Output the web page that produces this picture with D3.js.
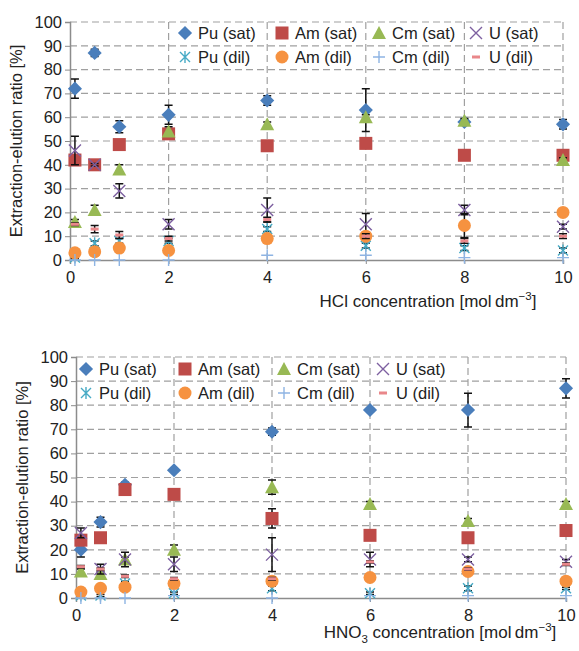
<!DOCTYPE html>
<html>
<head>
<meta charset="utf-8">
<script src="https://cdn.jsdelivr.net/npm/d3@7"></script>
<style>
  body { margin: 0; background: #fff; }
  svg text { font-family: "Liberation Sans", Arial, sans-serif; fill: #222; }
</style>
</head>
<body>
<div id="chart"></div>
<script>
// concentrations (mol/dm3) shared by both panels
var conc = [0.1, 0.5, 1, 2, 4, 6, 8, 10]
var seriesNames = ["Pu (sat)", "Am (sat)", "Cm (sat)", "U (sat)", "Pu (dil)", "Am (dil)", "Cm (dil)", "U (dil)"]
var yTicks = [0, 10, 20, 30, 40, 50, 60, 70, 80, 90, 100]
var xTicks = [0, 2, 4, 6, 8, 10]

// HCl panel
var hclPuSat = [72, 87, 56, 61, 67, 63, 58, 57]
var hclPuSatErr = [4, 1.5, 2.5, 4, 2, 9, 1, 2]
var hclAmSat = [42, 40, 48.5, 53, 48, 49, 44, 44]
var hclAmSatErr = [1, 0.5, 1, 2, 1, 1, 1, 1]
var hclCmSat = [16, 21, 38, 54, 57, 60, 58.5, 42]
var hclCmSatErr = [1, 2, 2, 2, 1, 1, 1, 1]
var hclUSat = [46, 40, 29, 15, 21, 15, 21, 14]
var hclUSatErr = [6, 0.5, 3, 2, 5, 4.5, 2, 1]
var hclPuDil = [1, 7, 8, 8, 13, 6, 5, 4]
var hclPuDilErr = [0.5, 1, 1, 1, 1, 1, 1, 1]
var hclAmDil = [3, 3.5, 5, 4, 9, 10, 14.5, 20]
var hclAmDilErr = [0.5, 0.5, 0.5, 0.5, 1, 1, 5, 1]
var hclCmDil = [0, 0, 0, 0, 2, 2, 1, 1]
var hclCmDilErr = [0, 0, 0, 0, 0, 0, 0, 0]
var hclUDil = [15, 13, 10.5, 9, 17, 10, 8, 10]
var hclUDilErr = [0.5, 1.5, 1.5, 1, 1, 1, 1, 1]

// HNO3 panel
var hno3PuSat = [20, 31.5, 47, 53, 69, 78, 78, 87]
var hno3PuSatErr = [3, 2, 1, 0.5, 1.5, 0.5, 7, 4]
var hno3AmSat = [24, 25, 45, 43, 33, 26, 25, 28]
var hno3AmSatErr = [1, 1, 1, 1, 4, 1, 1, 1]
var hno3CmSat = [11, 10, 16, 20, 46, 39, 32, 39]
var hno3CmSatErr = [1, 1, 1, 2, 3, 1, 1, 1]
var hno3USat = [27, 12, 16, 14, 18, 16, 16, 15]
var hno3USatErr = [2, 2, 3, 3, 7, 3, 1, 1]
var hno3PuDil = [1, 1, 6, 2, 4, 2, 4, 4]
var hno3PuDilErr = [0.5, 0.5, 1, 0.5, 1, 0.5, 1, 0.5]
var hno3AmDil = [2.5, 4, 4.5, 6, 7, 8.5, 11, 7]
var hno3AmDilErr = [0.5, 0.5, 0.5, 0.5, 0.5, 0.5, 0.5, 0.5]
var hno3CmDil = [0, 0, 0, 1, 0, 1, 1, 1]
var hno3CmDilErr = [0, 0, 0, 0, 0, 0, 0, 0]
var hno3UDil = [13, 12, 9, 8, 8, 15, 12, 14]
var hno3UDilErr = [0.5, 0.5, 0.5, 0.5, 0.5, 0.5, 0.5, 0.5]

const colors = {
  puSat: '#4a7ebb', amSat: '#be4b48', cmSat: '#98b954', uSat: '#7d60a0',
  puDil: '#46aac5', amDil: '#f69240', cmDil: '#8eb4e3', uDil: '#e9878a',
  grid: '#a0a0a0', axis: '#8c8c8c'
}
var markerKinds = ["diamond", "square", "triangle", "times", "asterisk", "circle", "plus", "dash"]
var markerColors = [colors.puSat, colors.amSat, colors.cmSat, colors.uSat, colors.puDil, colors.amDil, colors.cmDil, colors.uDil]

var svg = d3.select("#chart").append("svg").attr("width", 579).attr("height", 651)

// draws one marker centered on 0,0 of g
function drawMarker(g, kind, color) {
  if (kind == "diamond") {
    g.append("rect").attr("x", -5).attr("y", -5).attr("width", 10).attr("height", 10)
      .attr("transform", "rotate(45)").attr("fill", color)
  } else if (kind == "square") {
    g.append("rect").attr("x", -6.5).attr("y", -6.5).attr("width", 13).attr("height", 13).attr("fill", color)
  } else if (kind == "triangle") {
    g.append("path").attr("d", "M0,-7L7,6L-7,6Z").attr("fill", color)
  } else if (kind == "circle") {
    g.append("circle").attr("r", 6.5).attr("fill", color)
  } else if (kind == "times") {
    g.append("path").attr("d", "M-6,-6L6,6M-6,6L6,-6").attr("stroke", color).attr("stroke-width", 1.4)
  } else if (kind == "asterisk") {
    g.append("path").attr("d", "M-5,-5L5,5M-5,5L5,-5M0,-6L0,6").attr("stroke", color).attr("stroke-width", 1.4)
  } else if (kind == "plus") {
    g.append("path").attr("d", "M-6,0L6,0M0,-6L0,6").attr("stroke", color).attr("stroke-width", 1.4)
  } else if (kind == "dash") {
    g.append("rect").attr("x", -4).attr("y", -1.5).attr("width", 8).attr("height", 3).attr("fill", color)
  }
}

function drawPanel(opt) {
  var x = d3.scaleLinear().domain([0, 10]).range([opt.left, opt.right])
  var y = d3.scaleLinear().domain([0, 100]).range([opt.bottom, opt.top])
  var g = svg.append("g")

  // grid
  g.selectAll(".hgrid").data(yTicks.filter(d => d > 0)).enter().append("line")
    .attr("x1", opt.left).attr("x2", opt.right)
    .attr("y1", d => y(d)).attr("y2", d => y(d))
    .attr("stroke", colors.grid).attr("stroke-width", 1.2).attr("stroke-dasharray", "7,4")
  g.selectAll(".vgrid").data(xTicks.filter(d => d > 0)).enter().append("line")
    .attr("x1", d => x(d)).attr("x2", d => x(d))
    .attr("y1", opt.top).attr("y2", opt.bottom)
    .attr("stroke", colors.grid).attr("stroke-width", 1.2).attr("stroke-dasharray", "7,4")

  // axes
  var yAxis = d3.axisLeft(y).tickValues(yTicks).tickSize(5).tickPadding(3)
  var xAxis = d3.axisBottom(x).tickValues(xTicks).tickSize(4).tickPadding(7)
  var ya = g.append("g").attr("transform", "translate(" + opt.left + ",0)").call(yAxis)
  var xa = g.append("g").attr("transform", "translate(0," + opt.bottom + ")").call(xAxis)
  ;[ya, xa].forEach(function(a) {
    a.select(".domain").attr("stroke", colors.axis).attr("stroke-width", 1.5)
    a.selectAll(".tick line").attr("stroke", colors.axis)
    a.selectAll(".tick text").attr("font-size", 16.5).attr("fill", "#222")
      .style("font-family", "'Liberation Sans', Arial, sans-serif")
  })

  // series
  opt.series.forEach(function(s, i) {
    var sg = g.append("g")
    sg.selectAll(".err").data(conc).enter().append("path")
      .attr("d", function(c, j) {
        var e = s.err[j]
        if (!e) return ""
        var px = x(c), y1 = y(s.vals[j] + e), y2 = y(s.vals[j] - e)
        return "M" + px + "," + y1 + "L" + px + "," + y2 +
          "M" + (px - 4) + "," + y1 + "L" + (px + 4) + "," + y1 +
          "M" + (px - 4) + "," + y2 + "L" + (px + 4) + "," + y2
      })
      .attr("stroke", "#111").attr("stroke-width", 1.5).attr("fill", "none")
    conc.forEach(function(c, j) {
      var mg = sg.append("g").attr("transform", "translate(" + x(c) + "," + y(s.vals[j]) + ")")
      drawMarker(mg, markerKinds[i], markerColors[i])
    })
  })

  // legend
  seriesNames.forEach(function(name, i) {
    var col = i % 4, row = Math.floor(i / 4)
    var lx = opt.legX + col * opt.legStep, ly = opt.legY + row * 24
    var mg = g.append("g").attr("transform", "translate(" + lx + "," + ly + ")")
    drawMarker(mg, markerKinds[i], markerColors[i])
    g.append("text").attr("x", lx + 13).attr("y", ly).attr("dy", "0.35em")
      .attr("font-size", 16.5).text(name)
  })

  // y title
  g.append("text")
    .attr("transform", "translate(" + opt.yTitleX + "," + ((opt.top + opt.bottom) / 2) + ") rotate(-90)")
    .attr("text-anchor", "middle").attr("font-size", 16.5)
    .text("Extraction-elution ratio [%]")

  // x title
  var t = g.append("text").attr("x", opt.xTitleX).attr("y", opt.xTitleY)
    .attr("text-anchor", "middle").attr("font-size", 17)
  opt.xTitle(t)
}

drawPanel({
  left: 70, right: 563, top: 22, bottom: 260,
  legX: 185, legY: 33, legStep: 97, yTitleX: 22,
  xTitleX: 428, xTitleY: 307,
  xTitle: function(t) {
    t.append("tspan").text("HCl concentration [mol\u2009dm")
    t.append("tspan").attr("dy", -7).attr("font-size", 11.5).text("\u22123")
    t.append("tspan").attr("dy", 7).text("]")
  },
  series: [
    { vals: hclPuSat, err: hclPuSatErr }, { vals: hclAmSat, err: hclAmSatErr },
    { vals: hclCmSat, err: hclCmSatErr }, { vals: hclUSat, err: hclUSatErr },
    { vals: hclPuDil, err: hclPuDilErr }, { vals: hclAmDil, err: hclAmDilErr },
    { vals: hclCmDil, err: hclCmDilErr }, { vals: hclUDil, err: hclUDilErr }
  ]
})

drawPanel({
  left: 76, right: 566, top: 357, bottom: 598,
  legX: 86, legY: 369, legStep: 99, yTitleX: 28,
  xTitleX: 440, xTitleY: 638,
  xTitle: function(t) {
    t.append("tspan").text("HNO")
    t.append("tspan").attr("dy", 5).attr("font-size", 11.5).text("3")
    t.append("tspan").attr("dy", -5).text(" concentration [mol\u2009dm")
    t.append("tspan").attr("dy", -7).attr("font-size", 11.5).text("\u22123")
    t.append("tspan").attr("dy", 7).text("]")
  },
  series: [
    { vals: hno3PuSat, err: hno3PuSatErr }, { vals: hno3AmSat, err: hno3AmSatErr },
    { vals: hno3CmSat, err: hno3CmSatErr }, { vals: hno3USat, err: hno3USatErr },
    { vals: hno3PuDil, err: hno3PuDilErr }, { vals: hno3AmDil, err: hno3AmDilErr },
    { vals: hno3CmDil, err: hno3CmDilErr }, { vals: hno3UDil, err: hno3UDilErr }
  ]
})
</script>
</body>
</html>
